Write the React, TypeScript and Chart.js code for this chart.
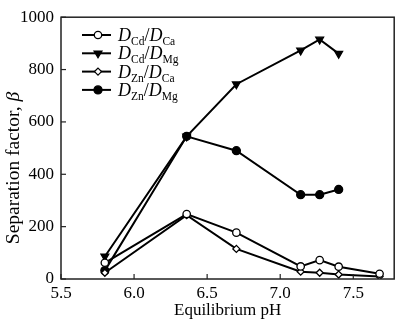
import { useEffect, useRef } from 'react';
import { Chart, registerables } from 'chart.js';

Chart.register(...registerables);

const PH_CD_CA = [5.8, 6.36, 6.7, 7.14, 7.27, 7.4, 7.68];
const CD_CA = [62, 248, 177, 48, 72, 47, 20];
const PH_CD_MG = [5.8, 6.36, 6.7, 7.14, 7.27, 7.4];
const CD_MG = [86, 545, 744, 873, 915, 861];
const PH_ZN_CA = [5.8, 6.36, 6.7, 7.14, 7.27, 7.4, 7.68];
const ZN_CA = [24, 244, 115, 28, 24, 17, 10];
const PH_ZN_MG = [5.8, 6.36, 6.7, 7.14, 7.27, 7.4];
const ZN_MG = [32, 545, 490, 322, 322, 342];

const LEGEND_LABELS: [string, string][] = [
  ['Cd', 'Ca'],
  ['Cd', 'Mg'],
  ['Zn', 'Ca'],
  ['Zn', 'Mg'],
];
const X_TITLE = 'Equilibrium pH';
const Y_TITLE = 'Separation factor, ';
const Y_TITLE_SYM = 'β';

const SERIF = '"Liberation Serif", "Times New Roman", serif';

type Marker = { style: string; fill: string; r: number };
const MARKERS: Marker[] = [
  { style: 'circle', fill: '#fff', r: 3.7 },
  { style: 'triangle', fill: '#000', r: 4.5 },
  { style: 'rectRot', fill: '#fff', r: 3.5 },
  { style: 'circle', fill: '#000', r: 4 },
];

function drawMarker(ctx: CanvasRenderingContext2D, m: Marker, x: number, y: number) {
  ctx.save();
  ctx.beginPath();
  if (m.style === 'circle') {
    ctx.arc(x, y, m.r, 0, Math.PI * 2);
  } else if (m.style === 'triangle') {
    const r = m.r;
    ctx.moveTo(x, y + r);
    ctx.lineTo(x - r * 0.866, y - r / 2);
    ctx.lineTo(x + r * 0.866, y - r / 2);
    ctx.closePath();
  } else {
    const r = m.r;
    ctx.moveTo(x, y - r);
    ctx.lineTo(x + r, y);
    ctx.lineTo(x, y + r);
    ctx.lineTo(x - r, y);
    ctx.closePath();
  }
  ctx.fillStyle = m.fill;
  ctx.fill();
  ctx.lineWidth = 1.3;
  ctx.strokeStyle = '#000';
  ctx.stroke();
  ctx.restore();
}

const customPlugin = {
  id: 'custom',
  afterDraw(chart: any) {
    const ctx: CanvasRenderingContext2D = chart.ctx;
    const { left, right, top, bottom } = chart.chartArea;
    ctx.save();
    // frame
    ctx.strokeStyle = '#222';
    ctx.lineWidth = 1.5;
    ctx.strokeRect(left, top, right - left, bottom - top);
    // inward ticks
    ctx.lineWidth = 1.2;
    const xs = chart.scales.x;
    xs.ticks.forEach((t: any) => {
      const px = xs.getPixelForValue(t.value);
      ctx.beginPath();
      ctx.moveTo(px, bottom);
      ctx.lineTo(px, bottom - 5);
      ctx.stroke();
    });
    const ys = chart.scales.y;
    ys.ticks.forEach((t: any) => {
      const py = ys.getPixelForValue(t.value);
      ctx.beginPath();
      ctx.moveTo(left, py);
      ctx.lineTo(left + 5, py);
      ctx.stroke();
    });

    // legend
    LEGEND_LABELS.forEach((lab, i) => {
      const y = 35 + i * 18.3;
      ctx.strokeStyle = '#000';
      ctx.lineWidth = 2;
      ctx.beginPath();
      ctx.moveTo(82, y);
      ctx.lineTo(111, y);
      ctx.stroke();
      drawMarker(ctx, MARKERS[i], 98, y);
      let x = 118;
      const base = y + 6;
      ctx.fillStyle = '#000';
      ctx.textBaseline = 'alphabetic';
      ctx.textAlign = 'left';
      const big = '18px ' + SERIF;
      const bigI = 'italic 18px ' + SERIF;
      const small = '11.5px ' + SERIF;
      ctx.font = bigI;
      ctx.fillText('D', x, base);
      x += ctx.measureText('D').width;
      ctx.font = small;
      ctx.fillText(lab[0], x, base + 4);
      x += ctx.measureText(lab[0]).width;
      ctx.font = big;
      ctx.fillText('/', x, base);
      x += ctx.measureText('/').width;
      ctx.font = bigI;
      ctx.fillText('D', x, base);
      x += ctx.measureText('D').width;
      ctx.font = small;
      ctx.fillText(lab[1], x, base + 4);
    });

    // x title
    ctx.font = '17px ' + SERIF;
    ctx.textAlign = 'center';
    ctx.textBaseline = 'middle';
    ctx.fillText(X_TITLE, (left + right) / 2, 311);

    // y title
    ctx.translate(14, 168);
    ctx.rotate(-Math.PI / 2);
    const fs = 19.5;
    ctx.font = fs + 'px ' + SERIF;
    const w1 = ctx.measureText(Y_TITLE).width;
    ctx.font = 'italic ' + fs + 'px ' + SERIF;
    const w2 = ctx.measureText(Y_TITLE_SYM).width;
    const start = -(w1 + w2) / 2;
    ctx.textAlign = 'left';
    ctx.font = fs + 'px ' + SERIF;
    ctx.fillText(Y_TITLE, start, 0);
    ctx.font = 'italic ' + fs + 'px ' + SERIF;
    ctx.fillText(Y_TITLE_SYM, start + w1, 0);
    ctx.restore();
  },
};

function toPts(xs: number[], ys: number[]) {
  return xs.map((x, i) => ({ x, y: ys[i] }));
}

export default function App() {
  const ref = useRef<HTMLCanvasElement>(null);
  useEffect(() => {
    if (!ref.current) return;
    const series = [
      toPts(PH_CD_CA, CD_CA),
      toPts(PH_CD_MG, CD_MG),
      toPts(PH_ZN_CA, ZN_CA),
      toPts(PH_ZN_MG, ZN_MG),
    ];
    const chart = new Chart(ref.current, {
      type: 'line',
      data: {
        datasets: series.map((d, i) => ({
          label: 'D' + LEGEND_LABELS[i][0] + '/D' + LEGEND_LABELS[i][1],
          data: d,
          borderColor: '#000',
          borderWidth: 2,
          tension: 0,
          pointStyle: MARKERS[i].style as any,
          pointRotation: MARKERS[i].style === 'triangle' ? 180 : 0,
          pointRadius: MARKERS[i].r,
          pointBackgroundColor: MARKERS[i].fill,
          pointBorderColor: '#000',
          pointBorderWidth: 1.3,
        })),
      },
      options: {
        animation: false,
        responsive: false,
        layout: { padding: { top: 6, right: 2, left: 0, bottom: 0 } },
        plugins: { legend: { display: false }, tooltip: { enabled: false } },
        scales: {
          x: {
            type: 'linear',
            min: 5.5,
            max: 7.78,
            grid: { drawOnChartArea: false, drawTicks: false },
            border: { display: false },
            ticks: {
              stepSize: 0.5,
              includeBounds: false,
              autoSkip: false,
              maxRotation: 0,
              padding: 4,
              color: '#000',
              font: { family: SERIF, size: 17 },
              callback: (v: any) => Number(v).toFixed(1),
            },
            afterFit: (s: any) => {
              s.height = 43;
            },
          },
          y: {
            type: 'linear',
            min: 0,
            max: 1000,
            grid: { drawOnChartArea: false, drawTicks: false },
            border: { display: false },
            ticks: {
              stepSize: 200,
              padding: 7,
              color: '#000',
              font: { family: SERIF, size: 17 },
              callback: (v: any) => String(Math.round(Number(v))),
            },
            afterFit: (s: any) => {
              s.width = 61;
            },
          },
        },
      },
      plugins: [customPlugin],
    });
    return () => chart.destroy();
  }, []);
  return (
    <div style={{ position: 'fixed', left: 0, top: 0, width: 400, height: 322, background: '#fff' }}>
      <canvas ref={ref} width={400} height={322} style={{ display: 'block' }} />
    </div>
  );
}
